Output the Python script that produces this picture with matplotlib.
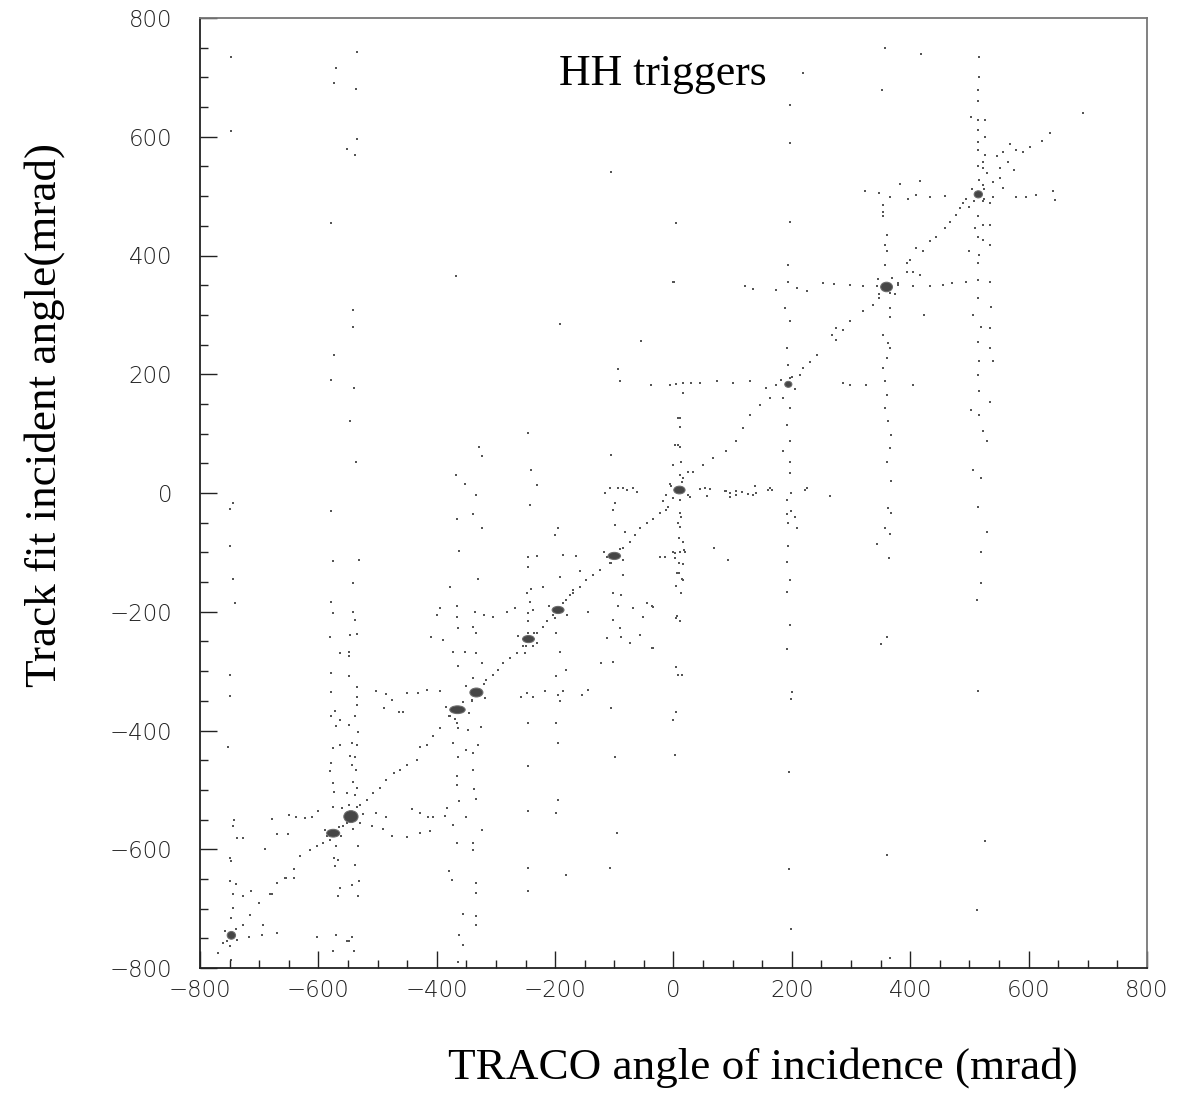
import numpy as np
import matplotlib
matplotlib.use("Agg")
import matplotlib.pyplot as plt
from matplotlib.patches import Ellipse

# dense cores (mrad): centre and approximate extent of the blob
core_x = [-747, -575, -545, -365, -333, -245, -195, -100, 10, 194, 360, 515]
core_y = [-745, -573, -545, -365, -336, -246, -197, -106, 5, 183, 347, 503]
core_w = [14, 22, 24, 26, 22, 20, 20, 21, 19, 12, 20, 14]
core_h = [13, 13, 20, 13, 15, 12, 12, 12, 13, 10, 16, 12]

# speckle right around the cores
halo = np.array([
    (-758, -738), (-738, -752), (-740, -735), (-755, -755),
    (-588, -568), (-562, -578), (-580, -585), (-565, -562),
    (-560, -530), (-530, -555), (-535, -528), (-558, -560), (-548, -525), (-525, -540),
    (-385, -360), (-345, -370), (-370, -380), (-355, -352), (-380, -375),
    (-350, -325), (-318, -345), (-340, -350), (-320, -322),
    (-262, -240), (-230, -252), (-250, -258), (-236, -236),
    (-210, -190), (-180, -205), (-200, -210), (-186, -186),
    (-118, -100), (-85, -112), (-105, -118), (-90, -95),
    (-5, 12), (25, -3), (15, 18), (0, -8),
    (182, 190), (205, 175), (200, 195),
    (345, 360), (375, 335), (370, 362), (348, 335), (380, 350),
    (505, 512), (525, 495), (508, 492), (524, 512),
])

# hits along the diagonal band
diag = np.array([
    (692, 640), (636, 606), (622, 593), (602, 583), (591, 575), (579, 578), (568, 587), (557, 575),
    (546, 567), (565, 558), (551, 547), (576, 544), (551, 530), (540, 524), (557, 513), (529, 539),
    (523, 519), (517, 527), (489, 488), (484, 480), (500, 482), (523, 491), (534, 488), (478, 468),
    (467, 457), (458, 446), (444, 432), (433, 424), (422, 407), (410, 412), (399, 393), (394, 387),
    (394, 373), (405, 373), (416, 367), (365, 337), (348, 328), (337, 317), (320, 306), (298, 289),
    (275, 278), (287, 275), (267, 266), (275, 258), (242, 233), (230, 221), (219, 210), (213, 199),
    (163, 160), (146, 149), (129, 132), (118, 109), (106, 87), (89, 70), (67, 59), (50, 48),
    (33, 36), (16, 25), (-1, -9), (11, -12), (-17, -14), (-9, -24), (-12, -3),
    (-12, -28), (-23, -34), (-34, -43), (-45, -51), (-57, -59), (-65, -71), (-74, -82), (-85, -93),
    (-113, -107), (-108, -118), (-124, -129), (-136, -138), (-147, -146), (-158, -158), (-169, -163),
    (-175, -172), (-181, -180), (-203, -205), (-214, -216), (-220, -225), (-231, -236), (-254, -258),
    (-265, -270), (-276, -278), (-288, -287), (-296, -298), (-305, -306), (-316, -315), (-341, -348),
    (-378, -376), (-395, -396), (-406, -410), (-417, -424), (-428, -427), (-434, -449), (-451, -458),
    (-462, -466), (-473, -472), (-485, -483), (-496, -497), (-507, -505), (-518, -517), (-530, -525),
    (-552, -556), (-592, -590), (-603, -595), (-614, -601), (-631, -612), (-642, -634), (-654, -648),
    (-670, -657), (-682, -676), (-701, -690), (-716, -710), (-727, -727), (-761, -758), (-769, -775),
])

# horizontal streaks through the cores
horiz = np.array([
    (323, 508), (348, 505), (365, 498), (396, 496), (410, 502), (433, 499), (458, 501), (495, 496),
    (540, 499), (579, 499), (596, 499), (613, 502), (641, 508), (644, 494), (382, 520), (416, 526),
    (120, 348), (135, 344), (174, 342), (194, 356), (208, 345), (225, 340), (253, 353), (272, 352),
    (298, 351), (320, 349), (343, 349), (379, 353), (405, 349), (433, 348), (455, 351), (470, 353),
    (495, 356), (515, 359), (534, 356), (-1, 356),
    (-38, 182), (-6, 182), (16, 185), (44, 185), (73, 188), (101, 185), (129, 188), (157, 177),
    (174, 182), (287, 185), (298, 182), (326, 182), (405, 182), (5, 183), (30, 185), (16, 168),
    (44, 6), (53, 8), (61, 6), (87, 4), (89, 3), (95, 0), (106, 4), (106, -3), (115, 1), (126, -2),
    (135, -3), (137, 12), (140, 0), (160, 5), (163, 8), (166, 5), (222, 5), (225, 8), (264, -5),
    (96, -7), (57, -5), (28, -6), (-6, 16), (-116, 0), (-107, 8), (-94, 8), (-79, 5), (-68, 8),
    (-62, 1), (-85, 8),
    (-23, -107), (-15, -107), (2, -101), (-15, -108), (-1, -99), (19, -99), (-164, -106), (-186, -104),
    (-144, -200), (-237, -197), (-268, -194), (-282, -200), (-305, -208), (-321, -205), (-336, -200),
    (-366, -191), (-395, -194), (-400, -205), (-243, -183), (-245, -202),
    (-144, -331), (-155, -340), (-192, -351), (-217, -334), (-248, -337), (-257, -343), (-237, -343),
    (-186, -334), (-195, -340), (-502, -334), (-485, -338), (-476, -348), (-489, -362), (-463, -368),
    (-457, -368), (-451, -336), (-431, -337), (-417, -331), (-395, -333),
    (-679, -549), (-649, -542), (-637, -545), (-623, -547), (-611, -545), (-600, -536), (-502, -539),
    (-485, -545), (-442, -533), (-428, -539), (-414, -546), (-406, -545), (-386, -544), (-510, -561),
    (-490, -566), (-476, -578), (-451, -579), (-428, -573), (-412, -570), (-383, -531), (-670, -575),
    (-651, -575), (-728, -581), (-737, -581), (-690, -600),
])

# vertical streaks through the cores
vert = np.array([
    (516, 735), (516, 701), (515, 679), (515, 660), (503, 634), (515, 628), (526, 628), (515, 611),
    (526, 600), (515, 592), (515, 578), (526, 569), (515, 550), (523, 558), (523, 547), (515, 466),
    (523, 452), (534, 452), (509, 446), (515, 432), (523, 426), (534, 418), (517, 401), (515, 387),
    (500, 407), (515, 328), (537, 314), (506, 300), (520, 280), (534, 278), (515, 255), (534, 244),
    (517, 222), (540, 222), (515, 199), (517, 171), (534, 154), (503, 140), (517, 132), (523, 104),
    (529, 87), (506, 39), (520, 25), (515, -24), (530, -66), (519, -100), (519, -152), (512, -181),
    (515, -334), (526, -586), (513, -703),
    (357, 749), (353, 679), (354, 485), (354, 474), (354, 466), (360, 435), (357, 418), (360, 407),
    (357, 384), (365, 311), (365, 297), (354, 266), (363, 252), (365, 244), (360, 227), (354, 210),
    (357, 188), (360, 165), (357, 143), (363, 121), (368, 98), (365, 76), (360, 53), (368, 20),
    (363, -26), (368, -34), (357, -59), (366, -69), (343, -86), (364, -109), (361, -242), (351, -254),
    (361, -610), (366, -783),
    (219, 707), (196, 654), (196, 589), (196, 457), (194, 384), (188, 311), (196, 289), (191, 244),
    (194, 216), (196, 193), (185, 160), (196, 143), (191, 115), (196, 87), (185, 70), (196, 53),
    (196, 34), (199, 0), (191, -12), (199, -30), (192, -35), (205, -40), (194, -51), (209, -59),
    (194, -90), (191, -117), (196, -146), (191, -166), (196, -223), (191, -262), (201, -335),
    (198, -347), (195, -470), (195, -634), (198, -735),
    (5, 454), (1, 356), (11, 126), (8, 126), (11, 112), (8, 81), (2, 81), (11, 78), (13, 53),
    (-1, 48), (25, 36), (11, 31), (11, -34), (13, -40), (8, -51), (11, -57), (10, -76), (16, -82),
    (17, -96), (11, -99), (2, -110), (10, -118), (16, -119), (6, -134), (15, -144), (4, -156),
    (12, -169), (6, -207), (11, -216), (5, -211), (5, -293), (8, -306), (14, -306), (5, -368),
    (-1, -382), (2, -441), (16, -146), (10, -135),
    (-106, 541), (-93, 209), (-91, 188), (-106, 64), (-99, -17), (-102, -28), (-99, -54), (-82, -65),
    (-85, -138), (-102, -169), (-88, -172), (-94, -191), (-102, -214), (-91, -228), (-88, -242),
    (-74, -253), (-113, -244), (-68, -194), (-51, -208), (-45, -186), (-37, -191), (-57, -239),
    (-37, -261), (-105, -362), (-122, -287), (-102, -284), (-99, -444), (-96, -573), (-107, -632),
    (-55, 256), (-35, -192), (-35, -261),
    (-192, 284), (-245, 101), (-241, 39), (-231, 14), (-243, -20), (-195, -59), (-200, -71),
    (-245, -107), (-231, -106), (-245, -125), (-240, -162), (-220, -159), (-158, -131), (-192, -141),
    (-248, -169), (-169, -169), (-245, -216), (-245, -236), (-237, -258), (-251, -270), (-198, -236),
    (-192, -267), (-181, -298), (-198, -309), (-198, -388), (-195, -421), (-245, -388), (-245, -460),
    (-195, -517), (-245, -536), (-198, -539), (-181, -643), (-245, -632), (-245, -671),
    (-367, 365), (-328, 78), (-323, 63), (-368, 31), (-352, 15), (-333, -3), (-339, -35), (-366, -43),
    (-324, -59), (-362, -97), (-330, -144), (-378, -158), (-366, -208), (-338, -225), (-333, -236),
    (-364, -228), (-372, -267), (-352, -267), (-333, -270), (-324, -287), (-364, -292), (-338, -312),
    (-389, -247), (-409, -242), (-356, -709), (-362, -745), (-356, -761), (-364, -790), (-333, -712),
    (-333, -727), (-334, -674), (-333, -657), (-337, -499), (-333, -515), (-362, -519), (-366, -491),
    (-366, -477), (-364, -444), (-350, -432), (-338, -438), (-338, -466), (-339, -590), (-338, -601),
    (-365, -590), (-380, -637), (-375, -651), (-372, -559), (-323, -567), (-350, -545), (-326, -394),
    (-330, -424), (-347, -399), (-366, -388), (-364, -396), (-372, -421),
    (-578, -30), (-575, -115), (-578, -184), (-576, -202), (-580, -243), (-564, -269), (-578, -303),
    (-579, -335), (-572, -367), (-579, -375), (-564, -382), (-570, -393), (-575, -430), (-564, -424),
    (-578, -455), (-580, -469), (-576, -489), (-574, -503), (-575, -528), (-570, -595), (-574, -615),
    (-566, -618), (-572, -629), (-564, -665), (-566, -679), (-570, -744), (-575, -772),
    (-531, -113), (-542, -152), (-542, -200), (-538, -214), (-547, -239), (-535, -237), (-548, -267),
    (-548, -275), (-549, -309), (-535, -326), (-535, -343), (-535, -357), (-538, -376), (-549, -390),
    (-533, -402), (-544, -421), (-535, -424), (-547, -443), (-538, -444), (-544, -458), (-536, -466),
    (-541, -486), (-535, -497), (-552, -505), (-538, -508), (-541, -566), (-533, -595), (-538, -626),
    (-531, -654), (-533, -679), (-544, -660), (-543, -747), (-549, -755), (-540, -772),
    (-744, -17), (-750, -27), (-750, -90), (-744, -144), (-741, -186), (-749, -306), (-750, -342),
    (-752, -427), (-743, -551), (-745, -561), (-749, -615), (-747, -620), (-749, -654), (-739, -658),
    (-745, -676), (-744, -699), (-748, -716), (-749, -763), (-747, -786),
])

# isolated hits
stray = np.array([
    (-747, 735), (-534, 742), (-571, 716), (-574, 690), (-537, 680), (-748, 609), (-535, 596),
    (-551, 579), (-538, 569), (-578, 454), (-542, 308), (-541, 279), (-573, 232), (-578, 191),
    (-540, 177), (-547, 121), (-537, 53), (419, 739), (424, 300), (69, -93), (92, -112),
    (-693, -727), (-670, -741), (-696, -744), (-718, -747), (-713, -671), (-728, -679), (-679, -676),
    (-656, -648), (-642, -648), (-603, -747), (-552, -755), (-586, -578),
])

pts = np.vstack([diag, horiz, vert, stray, halo])

fig = plt.figure(figsize=(11.85, 10.97), dpi=100)
ax = fig.add_axes([200 / 1185, 1 - 968 / 1097, 947 / 1185, 950 / 1097])

ax.scatter(pts[:, 0], pts[:, 1], s=3.0, marker="s", color="#555555", linewidths=0)
for cx, cy, w, h in zip(core_x, core_y, core_w, core_h):
    ax.add_patch(Ellipse((cx, cy), w, h, facecolor="#3c3c3c", edgecolor="#6a6a6a",
                         linewidth=0.8, alpha=0.95))

ax.set_xlim(-800, 800)
ax.set_ylim(-800, 800)
ax.set_xticks(np.arange(-800, 801, 200))
ax.set_yticks(np.arange(-800, 801, 200))
ax.set_xticks(np.arange(-800, 801, 50), minor=True)
ax.set_yticks(np.arange(-800, 801, 50), minor=True)
ax.tick_params(which="both", direction="in", top=False, right=False,
               color="#222222", width=1.0)
ax.tick_params(which="major", length=12.5, labelsize=16.5, pad=20, colors="#222222")
ax.tick_params(axis="x", which="major", pad=8)
ax.tick_params(which="minor", length=6)
for lab in ax.get_xticklabels() + ax.get_yticklabels():
    lab.set_fontweight("light")

for side in ["left", "bottom"]:
    ax.spines[side].set_linewidth(1.3)
    ax.spines[side].set_color("#222222")
for side in ["top", "right"]:
    ax.spines[side].set_linewidth(1.3)
    ax.spines[side].set_color("#777777")

serif = ["Liberation Serif", "DejaVu Serif"]
ax.text(-18, 705, "HH triggers", ha="center", va="center", fontsize=31.5, family=serif)
fig.text(763 / 1185, 1 - 1068 / 1097, "TRACO angle of incidence (mrad)",
         ha="center", va="center", fontsize=32.5, family=serif)
fig.text(45 / 1185, 1 - 415 / 1097, "Track fit incident angle(mrad)",
         ha="center", va="center", rotation=90, fontsize=32.5, family=serif)

fig.savefig("out.png", dpi=100)
